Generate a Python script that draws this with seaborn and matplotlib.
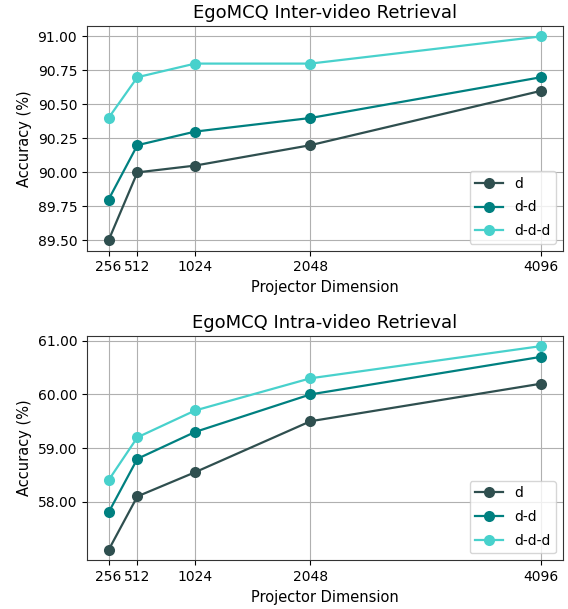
import seaborn as sns
import matplotlib.pyplot as plt
import pandas as pd

dims = [256, 512, 1024, 2048, 4096]
series = ['d', 'd-d', 'd-d-d']
colors = ['#2F4F4F', '#008080', '#48D1CC']

inter_d = [89.50, 90.00, 90.05, 90.20, 90.60]
inter_dd = [89.80, 90.20, 90.30, 90.40, 90.70]
inter_ddd = [90.40, 90.70, 90.80, 90.80, 91.00]

intra_d = [57.10, 58.10, 58.55, 59.50, 60.20]
intra_dd = [57.80, 58.80, 59.30, 60.00, 60.70]
intra_ddd = [58.40, 59.20, 59.70, 60.30, 60.90]

titles = ['EgoMCQ Inter-video Retrieval', 'EgoMCQ Intra-video Retrieval']
yticks = [[89.50, 89.75, 90.00, 90.25, 90.50, 90.75, 91.00],
          [58.00, 59.00, 60.00, 61.00]]

panels = [[inter_d, inter_dd, inter_ddd], [intra_d, intra_dd, intra_ddd]]

fig, axes = plt.subplots(2, 1, figsize=(5.68, 6.09), dpi=100)
fig.subplots_adjust(left=0.153, right=0.991, top=0.957, bottom=0.08, hspace=0.38)
for ax, title, data, yt in zip(axes, titles, panels, yticks):
    rows = []
    for name, vals in zip(series, data):
        for x, v in zip(dims, vals):
            rows.append({'dim': x, 'acc': v, 'model': name})
    df = pd.DataFrame(rows)
    sns.lineplot(data=df, x='dim', y='acc', hue='model', palette=colors,
                 marker='o', markersize=8, markeredgewidth=0, linewidth=1.6, ax=ax)
    ax.set_title(title, fontsize=13)
    ax.set_xticks(dims)
    ax.set_xticklabels([str(d) for d in dims])
    ax.set_yticks(yt)
    ax.set_yticklabels(['%.2f' % y for y in yt])
    ax.tick_params(labelsize=10)
    ax.grid(True, color='#b0b0b0', linewidth=0.8)
    ax.set_axisbelow(True)
    ax.set_xlabel('Projector Dimension', fontsize=10.5)
    ax.set_ylabel('Accuracy (%)', fontsize=10.5)
    ax.legend(loc='lower right', fontsize=10, title=None, labelspacing=0.7)
    for s in ax.spines.values():
        s.set_color('#333333')

plt.savefig('out.png', dpi=100)
